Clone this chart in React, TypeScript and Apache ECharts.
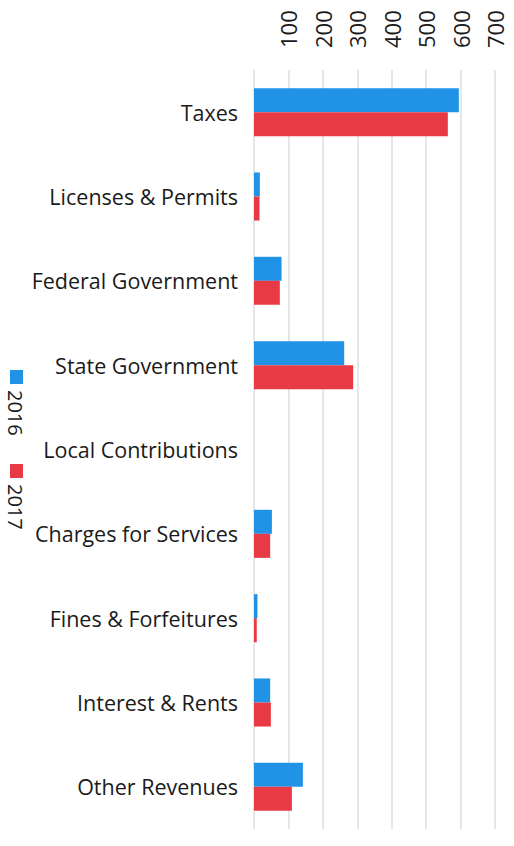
import React, { useEffect, useRef } from "react";
import * as echarts from "echarts";

const categories = [
  "Taxes",
  "Licenses & Permits",
  "Federal Government",
  "State Government",
  "Local Contributions",
  "Charges for Services",
  "Fines & Forfeitures",
  "Interest & Rents",
  "Other Revenues",
];
const values2016 = [595, 17, 80, 262, 0, 52, 10, 47, 142];
const values2017 = [563, 16, 75, 288, 0, 47, 8, 49, 110];
const seriesNames = ["2016", "2017"];
const colors = ["#2193e6", "#e83a45"];
const axisMax = 700;
const axisInterval = 100;

export default function App() {
  const ref = useRef<HTMLDivElement>(null);
  useEffect(() => {
    if (!ref.current) return;
    const chart = echarts.init(ref.current, undefined, { renderer: "svg" });
    const font = "Open Sans";
    chart.setOption({
      animation: false,
      backgroundColor: "#ffffff",
      textStyle: { fontFamily: font },
      grid: { left: 254, right: 19, top: 70, bottom: 17, containLabel: false },
      xAxis: {
        type: "value",
        position: "top",
        min: 0,
        max: axisMax,
        interval: axisInterval,
        axisLine: { show: false },
        axisTick: { show: false },
        splitLine: { show: true, lineStyle: { color: "#dedede", width: 1.5 } },
        axisLabel: {
          rotate: -90,
          fontSize: 22,
          color: "#1a1a1a",
          margin: 22,
          fontFamily: font,
          formatter: (v: number) => (v === 0 ? "" : String(v)),
        },
      },
      yAxis: {
        type: "category",
        inverse: true,
        data: categories,
        axisLine: { show: false },
        axisTick: { show: false },
        axisLabel: { fontSize: 21.5, color: "#1a1a1a", margin: 16, fontFamily: font },
      },
      series: [
        {
          name: seriesNames[0],
          type: "bar",
          data: values2016,
          itemStyle: { color: colors[0] },
          barGap: "0%",
          barCategoryGap: "43%",
        },
        {
          name: seriesNames[1],
          type: "bar",
          data: values2017,
          itemStyle: { color: colors[1] },
          barGap: "0%",
          barCategoryGap: "43%",
        },
      ],
      graphic: [
        { type: "rect", shape: { x: 10, y: 370, width: 13, height: 14 }, style: { fill: colors[0] } },
        {
          type: "text",
          x: 15,
          y: 390,
          rotation: -Math.PI / 2,
          style: { text: seriesNames[0], fontSize: 20, fill: "#1a1a1a", fontFamily: font, textAlign: "left", textVerticalAlign: "middle" },
        },
        { type: "rect", shape: { x: 10, y: 464, width: 13, height: 14 }, style: { fill: colors[1] } },
        {
          type: "text",
          x: 15,
          y: 484,
          rotation: -Math.PI / 2,
          style: { text: seriesNames[1], fontSize: 20, fill: "#1a1a1a", fontFamily: font, textAlign: "left", textVerticalAlign: "middle" },
        },
      ],
    });
    return () => chart.dispose();
  }, []);
  return (
    <div
      ref={ref}
      style={{ position: "fixed", left: 0, top: 0, width: 514, height: 846, background: "#fff" }}
    />
  );
}
